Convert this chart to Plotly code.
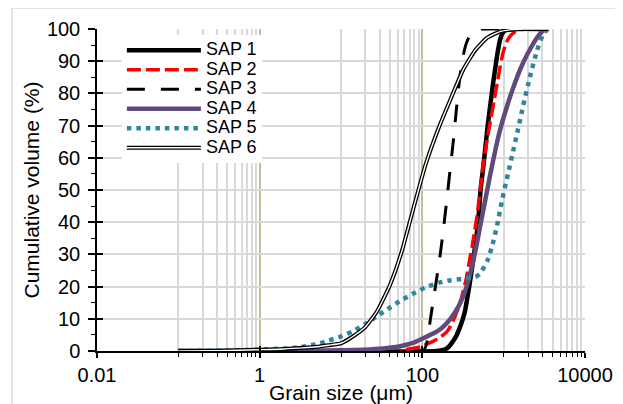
import plotly.graph_objects as go

# ---------------- data ----------------
sap1_size = [0.1, 150, 190, 215, 238, 265, 291, 315, 335, 360, 385, 410, 440, 470, 500, 520, 560, 600, 640, 690, 740, 790, 840, 900, 960, 1040, 1150, 3500]
sap1_vol = [0, 0, 0.5, 1.5, 3, 5, 7.5, 10, 12.5, 17, 21.5, 26, 31.5, 37, 44, 50, 57, 64, 70.5, 77, 83, 88, 92.5, 96.5, 98.6, 99.6, 100, 100]

sap2_size = [0.1, 30, 53, 94, 135, 170, 201, 230, 252, 275, 299, 320, 344, 365, 386, 410, 432, 470, 512, 550, 590, 640, 700, 760, 830, 900, 980, 1080, 1200, 1400, 1600, 2000, 3500]
sap2_vol = [0, 0, 0.2, 1.3, 3, 4.5, 6, 8.5, 10.7, 13.2, 16, 18.8, 22, 25.5, 29, 32.5, 36, 42, 49.5, 56, 61.5, 67, 72.5, 77.5, 83, 88, 92.5, 95.8, 97.8, 99.2, 99.8, 100, 100]

sap3_size = [0.1, 95, 105, 112, 118, 125, 135, 150, 165, 180, 200, 220, 240, 260, 280, 300, 320, 345, 380, 430, 480, 520, 3500]
sap3_vol = [0, 0, 0.3, 2, 5, 9.5, 15, 22.5, 29.5, 37, 47, 56.5, 65, 74, 82, 88, 92, 95.3, 97.8, 99.3, 99.9, 100, 100]

sap4_size = [0.1, 3, 15, 30, 53, 80, 114, 150, 180, 220, 259, 300, 350, 400, 457, 512, 590, 680, 800, 900, 1100, 1300, 1600, 1940, 2570, 3000, 3500]
sap4_vol = [0, 0.05, 0.3, 0.7, 1.5, 2.7, 4.5, 6, 7.5, 9.9, 12.5, 15.5, 20, 25.5, 32, 38.5, 46.5, 54.5, 63, 68.5, 76, 81.5, 87.5, 92, 97.3, 99.3, 100]

sap5_size = [0.1, 0.3, 1, 2, 3, 5, 7, 10, 14, 20, 28, 40, 56, 80, 110, 160, 225, 320, 450, 512, 630, 720, 830, 950, 1130, 1300, 1500, 1730, 2100, 2570, 3050, 3500]
sap5_vol = [0, 0.1, 0.4, 0.8, 1.1, 2.1, 3.2, 4.5, 6.1, 8.4, 10.9, 13.5, 15.9, 18.0, 19.8, 21.2, 22.0, 22.4, 23.0, 24, 28, 32.5, 39, 46.5, 55, 61.8, 68.8, 76, 85, 93.3, 98.3, 100]

sap6_size = [0.1, 0.3, 1, 2, 3, 5, 7, 10, 14, 20, 28, 40, 56, 80, 110, 160, 225, 320, 450, 630, 900, 1260, 1800, 3500]
sap6_vol = [0, 0.1, 0.4, 0.6, 0.9, 1.3, 1.8, 2.4, 4.5, 7.5, 12.5, 20.5, 31, 45.5, 58, 69.5, 78.5, 87.5, 93.5, 97.3, 99.2, 99.8, 100, 100]

series_names = ["SAP 1", "SAP 2", "SAP 3", "SAP 4", "SAP 5", "SAP 6"]

x_major_ticks = [0.01, 1, 100, 10000]
x_major_labels = ["0.01", "1", "100", "10000"]
x_minor_ticks = [0.1, 0.2, 0.3, 0.4, 0.5, 0.6, 0.7, 0.8, 0.9,
                 10, 20, 30, 40, 50, 60, 70, 80, 90,
                 1000, 2000, 3000, 4000, 5000, 6000, 7000, 8000, 9000]

# ---------------- styles ----------------
FONT = "Liberation Sans, Arial, sans-serif"
GRID = "#D9D9D9"
TAN = "#C4BD97"
PURPLE = "#604A7B"
TEAL = "#31859C"

LEG_FONT = 12.7           # sets the legend row pitch
LEG_ROW = LEG_FONT * 1.3 + 3
PLOT_H = 322
LEG_Y = 0.98
LEG_X = 0.051
LEG_ITEMW = 74


def lname(n):
    return '<span style="font-size:18px">' + n + '</span>'


fig = go.Figure()
sm = 0.5
fig.add_trace(go.Scatter(x=sap1_size, y=sap1_vol, name=lname(series_names[0]), mode="lines",
                         line=dict(color="black", width=4.5, shape="spline", smoothing=sm)))
fig.add_trace(go.Scatter(x=sap2_size, y=sap2_vol, name=lname(series_names[1]), mode="lines",
                         line=dict(color="#FF0000", width=3.5, dash="14px,5px", shape="spline", smoothing=sm)))
fig.add_trace(go.Scatter(x=sap3_size, y=sap3_vol, name=lname(series_names[2]), mode="lines",
                         line=dict(color="black", width=3, dash="18px,16px", shape="spline", smoothing=sm)))
fig.add_trace(go.Scatter(x=sap4_size, y=sap4_vol, name=lname(series_names[3]), mode="lines",
                         line=dict(color=PURPLE, width=4.5, shape="spline", smoothing=sm)))
fig.add_trace(go.Scatter(x=sap5_size, y=sap5_vol, name=lname(series_names[4]), mode="lines",
                         line=dict(color=TEAL, width=4.5, dash="4.5px,5px", shape="spline", smoothing=sm)))
fig.add_trace(go.Scatter(x=sap6_size, y=sap6_vol, name=lname(series_names[5]), mode="lines",
                         line=dict(color="black", width=4, shape="spline", smoothing=sm)))
# white core of the double line for SAP 6 (its legend sample sits exactly over the SAP 6 sample)
fig.add_trace(go.Scatter(x=sap6_size, y=sap6_vol, name=lname(series_names[5]), legend="legend2",
                         mode="lines", hoverinfo="skip",
                         line=dict(color="white", width=1.4, shape="spline", smoothing=sm)))
# empty trace to register the overlay axes carrying the inward half of the crossing ticks
fig.add_trace(go.Scatter(x=[], y=[], xaxis="x2", yaxis="y2", showlegend=False))

fig.update_layout(
    width=615, height=396,
    margin=dict(l=89, r=38, t=21, b=53, autoexpand=False),
    paper_bgcolor="white", plot_bgcolor="white",
    font=dict(family=FONT, color="black", size=20),
    showlegend=True,
    legend=dict(x=LEG_X, y=LEG_Y, xanchor="left", yanchor="top",
                bgcolor="white", borderwidth=0,
                font=dict(family=FONT, size=LEG_FONT, color="black"),
                itemwidth=LEG_ITEMW, tracegroupgap=0),
    legend2=dict(x=LEG_X, y=LEG_Y - 5 * LEG_ROW / PLOT_H, xanchor="left", yanchor="top",
                 bgcolor="rgba(0,0,0,0)", borderwidth=0,
                 font=dict(family=FONT, size=LEG_FONT, color="rgba(0,0,0,0)"),
                 itemwidth=LEG_ITEMW, tracegroupgap=0),
    xaxis=dict(type="log", range=[-2, 4], tickmode="array",
               tickvals=x_major_ticks, ticktext=x_major_labels,
               showgrid=True, gridcolor=TAN, gridwidth=1.5,
               ticks="outside", ticklen=5, tickwidth=1.5, tickcolor="black",
               showline=True, linecolor="black", linewidth=1.5,
               tickfont=dict(size=20),
               minor=dict(tickmode="array", tickvals=x_minor_ticks, showgrid=True,
                          gridcolor=GRID, gridwidth=1.5, ticks="outside", ticklen=4,
                          tickwidth=1, tickcolor="black"),
               title=dict(text="Grain size (μm)", font=dict(size=21), standoff=0),
               automargin=False, zeroline=False),
    yaxis=dict(range=[0, 100], tickmode="linear", tick0=0, dtick=10,
               showgrid=True, gridcolor=GRID, gridwidth=1.5,
               ticks="outside", ticklen=7, tickwidth=1.5, tickcolor="black",
               showline=True, linecolor="black", linewidth=1.5,
               tickfont=dict(size=20), ticklabelstandoff=4,
               minor=dict(dtick=5, ticks="outside", ticklen=4, tickwidth=1,
                          tickcolor="black", showgrid=False),
               title=dict(text="Cumulative volume (%)", font=dict(size=21), standoff=2),
               automargin=False, zeroline=False),
    xaxis2=dict(type="log", range=[-2, 4], overlaying="x", anchor="y2", side="bottom",
                tickmode="array", tickvals=x_major_ticks, showticklabels=False,
                ticks="inside", ticklen=5, tickwidth=1.5, tickcolor="black",
                showgrid=False, showline=False, zeroline=False),
    yaxis2=dict(range=[0, 100], overlaying="y", anchor="x2", side="left",
                tickmode="linear", tick0=0, dtick=10, showticklabels=False,
                ticks="inside", ticklen=6, tickwidth=1.5, tickcolor="black",
                showgrid=False, showline=False, zeroline=False),
)

# outer chart-area border (top and left edges visible in the crop)
fig.add_shape(type="line", xref="paper", yref="paper", x0=-0.1742, x1=-0.1742, y0=1.0652, y1=-0.2,
              line=dict(color=GRID, width=1.5))
fig.add_shape(type="line", xref="paper", yref="paper", x0=-0.1742, x1=1.2, y0=1.0652, y1=1.0652,
              line=dict(color=GRID, width=1.5))

fig.write_html("out.html")
